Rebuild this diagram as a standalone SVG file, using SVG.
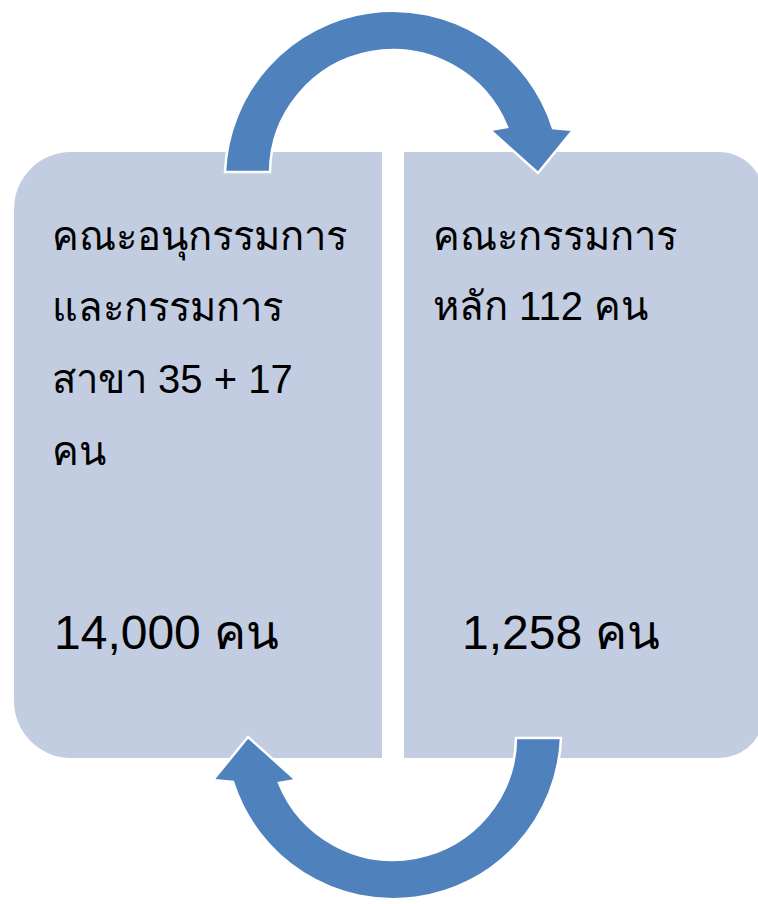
<svg xmlns="http://www.w3.org/2000/svg" width="758" height="904" viewBox="0 0 758 904">
<style>
.panel{fill:#C3CDE2;}
.arrow{fill:#4F81BD;stroke:#FFFFFF;stroke-width:2.5;stroke-linejoin:miter;}
.t{font-family:"Liberation Sans","Noto Sans",Tahoma,sans-serif;font-size:40px;fill:#000000;}
.big{font-size:48px;}
</style>
<rect width="758" height="904" fill="#FFFFFF"/>
<g id="node-left">
<path class="panel" d="M71 152 H382 V758 H71 A57 57 0 0 1 14 701 V209 A57 57 0 0 1 71 152 Z"/>
<text class="t" x="52" y="250">คณะอนุกรรมการ</text>
<text class="t" x="52" y="321">และกรรมการ</text>
<text class="t" x="52" y="393">สาขา 35 + 17</text>
<text class="t" x="52" y="465">คน</text>
<text class="t big" x="54" y="649">14,000 คน</text>
</g>
<g id="node-right">
<path class="panel" d="M404 152 H719 A45 45 0 0 1 764 197 V713 A45 45 0 0 1 719 758 H404 Z"/>
<text class="t" x="433" y="250">คณะกรรมการ</text>
<text class="t" x="433" y="320">หลัก 112 คน</text>
<text class="t big" x="462" y="649">1,258 คน</text>
</g>
<g id="connectors">
<path class="arrow" d="M225 172 A168 168 0 0 1 553 128 L573 130 L538 173 L490 130 L507 127 A123 123 0 0 0 270 172 Z"/>
<path class="arrow" transform="rotate(180 393 455)" d="M225 172 A168 168 0 0 1 553 128 L573 130 L538 173 L490 130 L507 127 A123 123 0 0 0 270 172 Z"/>
</g>
</svg>
